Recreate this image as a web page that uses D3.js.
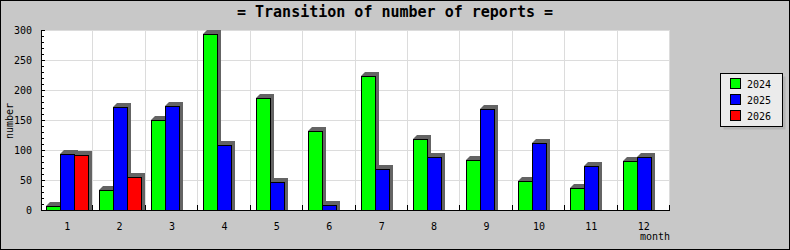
<!DOCTYPE html>
<html>
<head>
<meta charset="utf-8">
<script src="https://cdn.jsdelivr.net/npm/d3@7"></script>
<style>
  body { margin: 0; background: #fff; }
  text { font-family: "DejaVu Sans Mono", monospace; }
</style>
</head>
<body>
<script>
// Chart data
var months = ['1', '2', '3', '4', '5', '6', '7', '8', '9', '10', '11', '12'];
var years = ['2024', '2025', '2026'];
var reports2024 = [7, 33, 150, 293, 186, 131, 223, 119, 83, 49, 36, 81];
var reports2025 = [93, 172, 173, 108, 46, 8, 69, 88, 168, 111, 73, 88];
var reports2026 = [92, 55, null, null, null, null, null, null, null, null, null, null];
var yTicks = [0, 50, 100, 150, 200, 250, 300];
var colors = ['#00ff00', '#0000ff', '#ff0000'];

var W = 790, H = 250;
var margin = {top: 30, right: 120, bottom: 40, left: 41},
    width = W - margin.left - margin.right,
    height = H - margin.top - margin.bottom;

var svg = d3.select('body').append('svg')
    .attr('width', W)
    .attr('height', H);

// Background and frame
svg.append('rect')
    .attr('x', 0.5).attr('y', 0.5)
    .attr('width', W - 1).attr('height', H - 1)
    .attr('fill', '#c8c8c8')
    .attr('stroke', '#000');

svg.append('text')
    .text('= Transition of number of reports =')
    .attr('x', W / 2)
    .attr('y', 17)
    .attr('text-anchor', 'middle')
    .attr('font-size', '15px')
    .attr('font-weight', 'bold')
    .attr('fill', '#000');

var g = svg.append('g')
    .attr('transform', 'translate(' + margin.left + ',' + margin.top + ')');

var x0 = d3.scaleBand().domain(months).range([0, width]).padding(0);
var x1 = d3.scaleBand().domain(years).range([0, x0.bandwidth()]).paddingInner(0).paddingOuter(0.37);
var y = d3.scaleLinear().domain([0, 300]).range([height, 0]);

// Plot area
g.append('rect')
    .attr('width', width).attr('height', height)
    .attr('fill', '#fff');

// Grid
g.selectAll('.hgrid').data(yTicks).enter().append('line')
    .attr('x1', 0).attr('x2', width)
    .attr('y1', function(d) { return Math.round(y(d)) + 0.5; })
    .attr('y2', function(d) { return Math.round(y(d)) + 0.5; })
    .attr('stroke', '#dcdcdc');

var bounds = months.map(function(m) { return x0(m); }).concat([width]);
g.selectAll('.vgrid').data(bounds.slice(1)).enter().append('line')
    .attr('x1', function(d) { return Math.round(d) - 0.5; })
    .attr('x2', function(d) { return Math.round(d) - 0.5; })
    .attr('y1', 0).attr('y2', height)
    .attr('stroke', '#dcdcdc');

// Bars
var series = [reports2024, reports2025, reports2026];
var bars = [];
series.forEach(function(vals, si) {
    vals.forEach(function(v, i) {
        if (v === null) return;
        bars.push({month: months[i], year: years[si], value: v, color: colors[si]});
    });
});

var d = 4;
function shadowPath(b) {
    var bx = Math.round(x0(b.month) + x1(b.year)),
        bw = Math.round(x1.bandwidth()),
        by = Math.round(y(b.value)),
        base = y(0);
    return 'M' + bx + ',' + by + 'L' + (bx + d) + ',' + (by - d) +
           'L' + (bx + bw + d) + ',' + (by - d) + 'L' + (bx + bw + d) + ',' + base +
           'L' + bx + ',' + base + 'Z';
}

g.selectAll('.shadow').data(bars).enter().append('path')
    .attr('d', shadowPath)
    .attr('fill', '#646464');

g.selectAll('.bar').data(bars).enter().append('rect')
    .attr('x', function(b) { return Math.round(x0(b.month) + x1(b.year)) + 0.5; })
    .attr('y', function(b) { return Math.round(y(b.value)) + 0.5; })
    .attr('width', Math.round(x1.bandwidth()))
    .attr('height', function(b) { return height - Math.round(y(b.value)); })
    .attr('fill', function(b) { return b.color; })
    .attr('stroke', '#000');

// Y axis with minor ticks
var minor = d3.range(0, 301, 10);
g.selectAll('.ytick').data(minor).enter().append('line')
    .attr('x1', 0).attr('x2', function(v) { return v % 50 === 0 ? 4 : 3; })
    .attr('y1', function(v) { return Math.round(y(v)) + 0.5; })
    .attr('y2', function(v) { return Math.round(y(v)) + 0.5; })
    .attr('stroke', '#000');

g.append('line')
    .attr('x1', 0.5).attr('x2', 0.5)
    .attr('y1', 0).attr('y2', height + 1)
    .attr('stroke', '#000');

g.selectAll('.ylabel').data(yTicks).enter().append('text')
    .text(function(v) { return v; })
    .attr('x', -9)
    .attr('y', function(v) { return y(v); })
    .attr('dy', '0.35em')
    .attr('text-anchor', 'end')
    .attr('font-size', '10px');

// X axis
g.append('line')
    .attr('x1', 0).attr('x2', width)
    .attr('y1', height + 0.5).attr('y2', height + 0.5)
    .attr('stroke', '#000');

g.selectAll('.xtick').data(bounds.slice(1)).enter().append('line')
    .attr('x1', function(b) { return Math.round(b) - 0.5; })
    .attr('x2', function(b) { return Math.round(b) - 0.5; })
    .attr('y1', height - 5).attr('y2', height)
    .attr('stroke', '#000');

g.selectAll('.xlabel').data(months).enter().append('text')
    .text(function(m) { return m; })
    .attr('x', function(m) { return x0(m) + x0.bandwidth() / 2; })
    .attr('y', height + 20)
    .attr('text-anchor', 'middle')
    .attr('font-size', '10px');

g.append('text')
    .text('month')
    .attr('x', width)
    .attr('y', height + 30)
    .attr('text-anchor', 'end')
    .attr('font-size', '10px');

svg.append('text')
    .text('number')
    .attr('transform', 'translate(13,121) rotate(-90)')
    .attr('text-anchor', 'middle')
    .attr('font-size', '10px');

// Legend
var legend = svg.append('g').attr('transform', 'translate(720,73)');
legend.append('rect')
    .attr('x', 3.5).attr('y', 3.5)
    .attr('width', 62).attr('height', 53)
    .attr('fill', '#b4b4b4');
legend.append('rect')
    .attr('x', 0.5).attr('y', 0.5)
    .attr('width', 62).attr('height', 53)
    .attr('fill', '#ebebeb')
    .attr('stroke', '#000');

var item = legend.selectAll('.item').data(years).enter().append('g')
    .attr('transform', function(yr, i) { return 'translate(10,' + (5 + i * 16) + ')'; });
item.append('rect')
    .attr('x', 0.5).attr('y', 0.5)
    .attr('width', 10).attr('height', 10)
    .attr('fill', function(yr, i) { return colors[i]; })
    .attr('stroke', '#000');
item.append('text')
    .text(function(yr) { return yr; })
    .attr('x', 17)
    .attr('y', 6)
    .attr('dy', '0.35em')
    .attr('font-size', '10px');
</script>
</body>
</html>
